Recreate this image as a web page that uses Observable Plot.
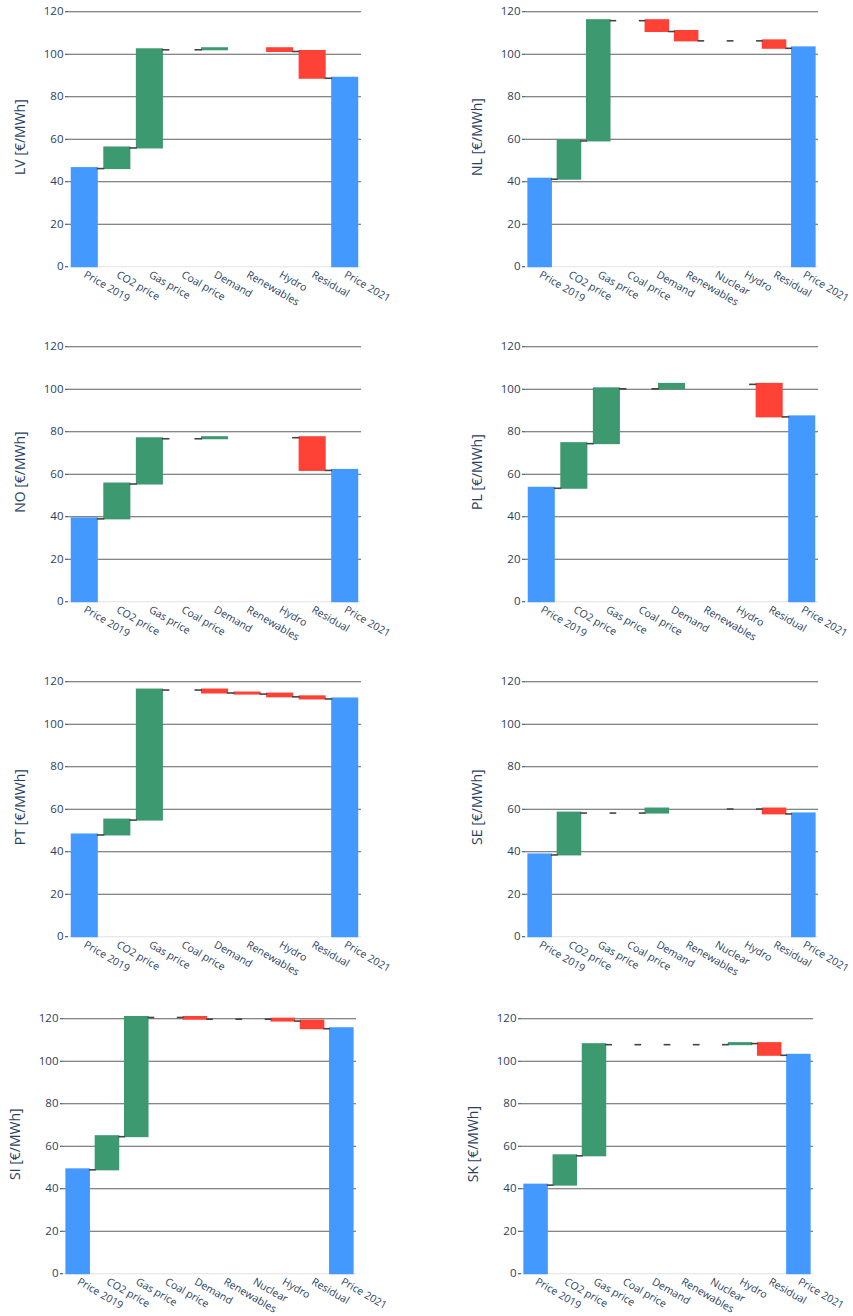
<!DOCTYPE html>
<html><head><meta charset="utf-8">
<script src="https://cdn.jsdelivr.net/npm/d3@7"></script>
<script src="https://cdn.jsdelivr.net/npm/@observablehq/plot@0.6"></script>
<style>
html,body{margin:0;padding:0;background:#fff;}
#root{position:relative;width:853px;height:1316px;overflow:hidden;background:#fff;}
#root svg{position:absolute;overflow:visible;}
g[aria-label="y-axis label"] text{font-size:14px;}
</style></head><body><div id="root"></div>
<script>
// ---- categories ----
const catsBase = ["Price 2019","CO2 price","Gas price","Coal price","Demand","Renewables","Hydro","Residual","Price 2021"];
const catsNuclear = ["Price 2019","CO2 price","Gas price","Coal price","Demand","Renewables","Nuclear","Hydro","Residual","Price 2021"];

// ---- values: first & last are totals, the rest are changes (null = not available) ----
const valuesLV = [46.2, 9.7, 46.2, 0, 0.5, null, -1.3, -12.6, 88.7];
const valuesNL = [41.2, 18.0, 56.6, 0, -5.1, -4.4, 0, 0, -3.5, 103.0];
const valuesNO = [39.0, 16.4, 21.3, 0, 0.5, null, 0, -15.4, 61.8];
const valuesPL = [53.4, 21.0, 25.8, 0, 2.1, null, 0, -15.3, 87.0];
const valuesPT = [47.9, 7.0, 61.2, 0, -1.4, -0.5, -1.3, -1.0, 111.9];
const valuesSE = [38.5, 19.7, 0, 0, 1.9, null, 0, 0, -2.3, 57.8];
const valuesSI = [48.9, 15.6, 56.1, 0, -0.8, 0, 0, -0.9, -3.6, 115.3];
const valuesSK = [41.7, 13.8, 52.3, 0, 0, 0, 0, 0.5, -5.5, 102.8];

const countries = ["LV","NL","NO","PL","PT","SE","SI","SK"];
const countryCats = [catsBase, catsNuclear, catsBase, catsBase, catsBase, catsNuclear, catsNuclear, catsNuclear];
const countryValues = [valuesLV, valuesNL, valuesNO, valuesPL, valuesPT, valuesSE, valuesSI, valuesSK];
const yTicks = [0, 20, 40, 60, 80, 100, 120];
const unitLabel = "[€/MWh]";

// ---- styles ----
const colorUp = "#3D9970", colorDown = "#FF4136", colorTotal = "#4499FF";
const gridColor = "#5f5f5f", zeroColor = "#e2e2e2", connectorColor = "#444";
const textColor = "#2a3f5f";
const halfBar = 0.385;

// ---- layout ----
const rowY120 = [11, 346, 681.7, 1018];
const plotLeftRows = [[68, 525],[68, 525],[68, 525],[63, 521]];
const plotRightRows = [[361, 818],[361, 818],[361, 818],[356, 813]];
const svgLeftCols = [0, 426], svgWidthCols = [426, 427];
const yMax = 122, pxPerUnit = 2.125, mTop = 5, mBottom = 60;

function buildTable(vals) {
  const n = vals.length;
  const bars = [], links = [];
  let level = 0;
  const ends = [];
  vals.forEach((v, i) => {
    if (i === 0 || i === n - 1) {
      bars.push({i, y1: 0, y2: v, c: colorTotal});
      ends.push(i === 0 ? v : level);
      if (i === 0) level = v;
    } else if (v === null) {
      ends.push(null);
    } else {
      if (v !== 0) bars.push({i, y1: level, y2: level + v, c: v > 0 ? colorUp : colorDown});
      level = level + v;
      ends.push(level);
    }
  });
  for (let i = 0; i < n - 1; i++) {
    if (ends[i] !== null && vals[i + 1] !== null) links.push({x1: i + halfBar, x2: i + 1 - halfBar, y: ends[i]});
  }
  return {bars, links};
}

const root = document.getElementById("root");
countries.forEach((code, k) => {
  const r = Math.floor(k / 2), c = k % 2;
  const cats = countryCats[k], vals = countryValues[k], n = cats.length;
  const {bars, links} = buildTable(vals);
  const svgLeft = svgLeftCols[c], width = svgWidthCols[c];
  const pl = plotLeftRows[r][c], pr = plotRightRows[r][c];
  const plotH = yMax * pxPerUnit;
  const svg = Plot.plot({
    width, height: mTop + plotH + mBottom,
    marginLeft: pl - svgLeft, marginRight: svgLeft + width - pr,
    marginTop: mTop, marginBottom: mBottom,
    style: {fontFamily: "'Open Sans', sans-serif", fontSize: "11.5px", color: textColor, background: "transparent", overflow: "visible"},
    x: {type: "linear", domain: [-0.5, n - 0.5]},
    y: {domain: [0, yMax]},
    color: {type: "identity"},
    marks: [
      Plot.ruleY(yTicks.filter(t => t > 0), {stroke: gridColor, strokeWidth: 1}),
      Plot.ruleY([0], {stroke: zeroColor, strokeWidth: 1}),
      Plot.rect(bars, {x1: d => d.i - halfBar, x2: d => d.i + halfBar, y1: "y1", y2: "y2", fill: "c", stroke: "c", strokeWidth: 2}),
      Plot.ruleY(links, {x1: "x1", x2: "x2", y: "y", stroke: connectorColor, strokeWidth: 1.6}),
      Plot.axisX({ticks: d3.range(n), tickFormat: i => cats[i], tickRotate: 30, tickSize: 0, tickPadding: 7, fontSize: 10.5, label: null}),
      Plot.axisY({ticks: yTicks, tickSize: 3, tickPadding: 2, label: `${code} ${unitLabel}`, labelAnchor: "center", labelOffset: 53, labelArrow: "none"})
    ]
  });
  svg.style.left = svgLeft + "px";
  svg.style.top = (rowY120[r] - (yMax - 120) * pxPerUnit - mTop) + "px";
  root.appendChild(svg);
});
</script>
</body></html>
